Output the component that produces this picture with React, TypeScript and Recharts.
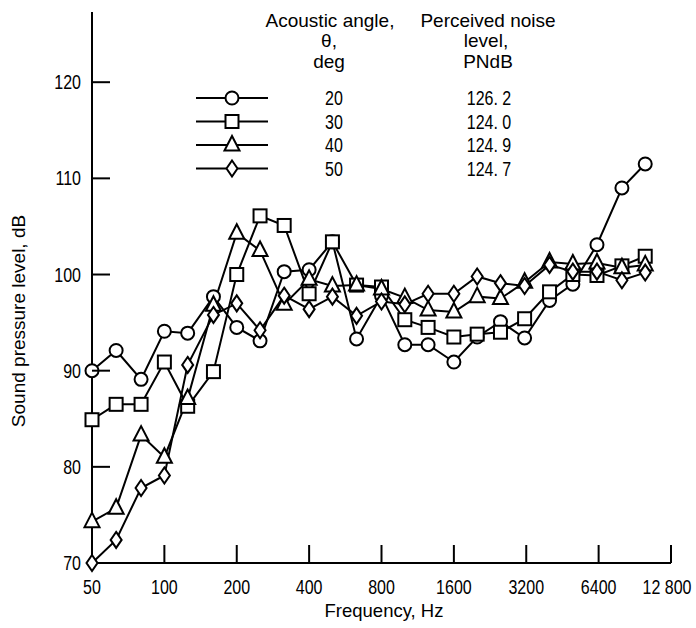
import React from "react";
import { LineChart, Line, XAxis, YAxis } from "recharts";

// one-third octave band centre frequencies, Hz
const freqs = [50, 63, 80, 100, 125, 160, 200, 250, 315, 400, 500, 630, 800, 1000, 1250, 1600, 2000, 2500, 3150, 4000, 5000, 6300, 8000, 10000];

// sound pressure level, dB, per acoustic angle
const spl20 = [90.0, 92.1, 89.1, 94.1, 93.9, 97.7, 94.5, 93.1, 100.3, 100.5, 103.4, 93.3, 97.8, 92.7, 92.7, 90.9, 93.5, 95.1, 93.4, 97.3, 99.0, 103.1, 109.0, 111.5];
const spl30 = [84.9, 86.5, 86.5, 90.9, 86.3, 89.9, 100.0, 106.1, 105.1, 98.0, 103.4, 98.9, 98.7, 95.3, 94.5, 93.5, 93.8, 94.0, 95.4, 98.2, 100.0, 99.9, 100.9, 101.9];
const spl40 = [74.3, 75.7, 83.3, 81.0, 87.1, 96.8, 104.3, 102.5, 96.9, 99.5, 98.8, 98.9, 98.5, 97.6, 96.3, 96.1, 97.7, 97.5, 99.2, 101.3, 101.1, 101.2, 100.7, 101.0];
const spl50 = [70.0, 72.4, 77.8, 79.1, 90.6, 95.8, 97.0, 94.2, 97.8, 96.4, 97.7, 95.7, 97.2, 96.9, 98.0, 98.0, 99.8, 99.1, 98.8, 101.0, 100.3, 100.3, 99.4, 100.2];

const angles = ["20", "30", "40", "50"];
const pnl = ["126. 2", "124. 0", "124. 9", "124. 7"];
const shapes = ["circle", "square", "triangle", "diamond"];
const keys = ["a20", "a30", "a40", "a50"];

const xTicks = [50, 100, 200, 400, 800, 1600, 3200, 6400, 12800];
const yTicks = [70, 80, 90, 100, 110, 120];

const data = freqs.map((f, i) => ({
    f,
    a20: spl20[i],
    a30: spl30[i],
    a40: spl40[i],
    a50: spl50[i],
}));

const FONT = "'Liberation Sans', Arial, sans-serif";

// condensed-looking numerals, squeezed horizontally
const NumText = ({ x, y, anchor = "middle", children }: any) => (
    <text
        transform={`translate(${x} ${y}) scale(0.8 1)`}
        textAnchor={anchor}
        fontFamily={FONT}
        fontSize={20}
        fill="#000"
    >
        {children}
    </text>
);

const Marker = ({ shape, cx, cy }: { shape: string; cx: number; cy: number }) => {
    const common = { fill: "#fff", stroke: "#000", strokeWidth: 2 };
    if (shape === "circle") return <circle cx={cx} cy={cy} r={6.5} {...common} />;
    if (shape === "square") return <rect x={cx - 6.5} y={cy - 6.5} width={13} height={13} {...common} />;
    if (shape === "triangle")
        return <polygon points={`${cx},${cy - 9} ${cx - 7.5},${cy + 5.5} ${cx + 7.5},${cy + 5.5}`} {...common} />;
    return <polygon points={`${cx},${cy - 8} ${cx + 5.5},${cy} ${cx},${cy + 8} ${cx - 5.5},${cy}`} {...common} />;
};

// x ticks: short inward (upward) marks with labels below the axis
const XTick = (props: any) => {
    const { x, y, payload } = props;
    const v = payload.value;
    const label = v === 12800 ? "12 800" : String(v);
    return (
        <g>
            {v !== 50 && <line x1={x} y1={y} x2={x} y2={y - 18} stroke="#000" strokeWidth={2} />}
            <NumText x={v === 12800 ? x - 4 : x} y={y + 31}>{label}</NumText>
        </g>
    );
};

// y ticks: inward (rightward) marks, labels left of the axis
const YTick = (props: any) => {
    const { x, y, payload } = props;
    const v = payload.value;
    return (
        <g>
            {v !== 70 && <line x1={x} y1={y} x2={x + 18} y2={y} stroke="#000" strokeWidth={2} />}
            <NumText x={x - 11} y={y + 7} anchor="end">{v}</NumText>
        </g>
    );
};

const rowY = [98, 121.5, 145, 168.5];

export default function App() {
    return (
        <div style={{ position: "absolute", left: 0, top: 0, width: 696, height: 628, background: "#fff" }}>
            <LineChart width={696} height={628} data={data} margin={{ top: 12, right: 25, left: 32, bottom: 25 }}>
                <XAxis
                    dataKey="f"
                    type="number"
                    scale="log"
                    domain={[50, 12800]}
                    ticks={xTicks}
                    height={40}
                    tickSize={0}
                    tickMargin={0}
                    tickLine={false}
                    tick={<XTick />}
                    axisLine={{ stroke: "#000", strokeWidth: 2 }}
                    interval={0}
                />
                <YAxis
                    type="number"
                    domain={[70, 127.3]}
                    ticks={yTicks}
                    width={60}
                    tickSize={0}
                    tickMargin={0}
                    tickLine={false}
                    tick={<YTick />}
                    axisLine={{ stroke: "#000", strokeWidth: 2 }}
                    interval={0}
                />
                {keys.map((k, i) => (
                    <Line
                        key={k}
                        dataKey={k}
                        type="linear"
                        stroke="#000"
                        strokeWidth={2}
                        isAnimationActive={false}
                        dot={(p: any) => <Marker key={`${k}-${p.index}`} shape={shapes[i]} cx={p.cx} cy={p.cy} />}
                        activeDot={false}
                    />
                ))}
            </LineChart>
            <svg width={696} height={628} style={{ position: "absolute", left: 0, top: 0, pointerEvents: "none" }}>
                {/* legend table */}
                <g fontFamily={FONT} fontSize={19} fill="#000" textAnchor="middle">
                    <text x={330} y={27}>Acoustic angle,</text>
                    <text x={329} y={47}>θ,</text>
                    <text x={329} y={68}>deg</text>
                    <text x={488} y={27}>Perceived noise</text>
                    <text x={486} y={47}>level,</text>
                    <text x={488} y={68}>PNdB</text>
                </g>
                {angles.map((a, i) => (
                    <g key={a}>
                        <line x1={196} x2={268} y1={rowY[i]} y2={rowY[i]} stroke="#000" strokeWidth={2} />
                        <Marker shape={shapes[i]} cx={232} cy={rowY[i]} />
                        <NumText x={334} y={rowY[i] + 7}>{a}</NumText>
                        <NumText x={489} y={rowY[i] + 7}>{pnl[i]}</NumText>
                    </g>
                ))}
                {/* axis titles */}
                <text x={384} y={617} textAnchor="middle" fontFamily={FONT} fontSize={18.5}>
                    Frequency, Hz
                </text>
                <text
                    x={0}
                    y={0}
                    transform="translate(25 321) rotate(-90)"
                    textAnchor="middle"
                    fontFamily={FONT}
                    fontSize={19}
                >
                    Sound pressure level, dB
                </text>
            </svg>
        </div>
    );
}
